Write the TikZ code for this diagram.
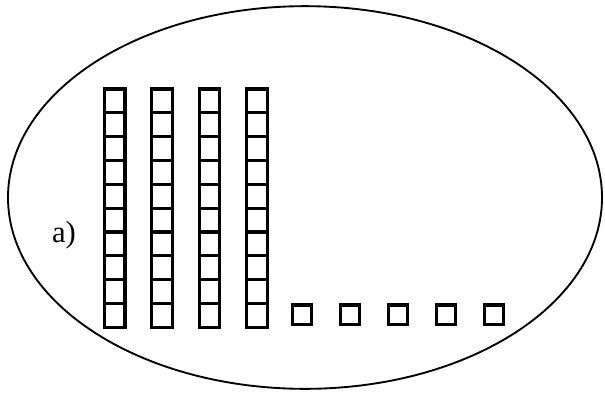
\documentclass[tikz,border=0pt]{standalone}
\usepackage{fontspec}
\setmainfont{Liberation Serif}
\begin{document}
\begin{tikzpicture}[x=0.75pt, y=-0.75pt,
  cube/.style={line width=2.4pt},
  rim/.style={line width=1.4pt}]
  \useasboundingbox (0,0) rectangle (605,393);
  % outer loop
  \draw[rim] (305,197.5) ellipse [x radius=222.75pt, y radius=143.5pt];
  % four rods of ten
  \foreach \cx in {114.7,162.1,209.5,256.9}
    \foreach \k in {0,...,9}
      \draw[cube] (\cx-10.35, 89+\k*23.84) rectangle ++(20.7,23.84);
  % five single units
  \foreach \cx in {302,350,398,446,494}
    \draw[cube] (\cx-9.65,305) rectangle ++(19.3,19.3);
  \node[font=\fontsize{23}{26}\selectfont, inner sep=0pt] (lbla) at (64,235) {a)};
\end{tikzpicture}
\end{document}
